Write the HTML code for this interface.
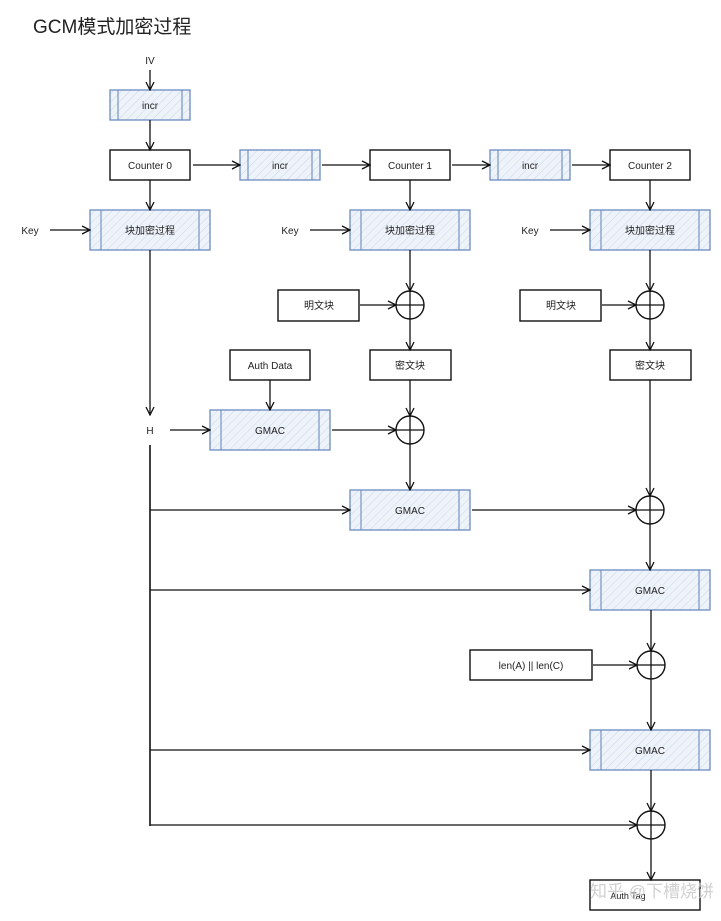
<!DOCTYPE html>
<html><head><meta charset="utf-8"><style>
html,body{margin:0;padding:0;background:#fff;width:721px;height:921px;overflow:hidden}
svg{display:block}
text{font-family:"Liberation Sans","Noto Sans CJK SC",sans-serif;fill:#222}
</style></head><body>
<svg width="721" height="921" viewBox="0 0 721 921" xmlns="http://www.w3.org/2000/svg">
<defs>
<pattern id="h" width="6" height="6" patternUnits="userSpaceOnUse" patternTransform="rotate(45)">
<rect width="6" height="6" fill="#eef3fa"/><line x1="0" y1="0" x2="0" y2="6" stroke="#c9d6ea" stroke-width="1"/>
</pattern>
<marker id="a" markerWidth="10" markerHeight="10" refX="9" refY="5" orient="auto" markerUnits="userSpaceOnUse">
<path d="M1,1 L9,5 L1,9" fill="none" stroke="#111" stroke-width="1.3"/>
</marker>
<g id="x"><circle r="14" fill="none" stroke="#111" stroke-width="1.4"/><line x1="-14" y1="0" x2="14" y2="0" stroke="#111" stroke-width="1.3"/><line x1="0" y1="-14" x2="0" y2="14" stroke="#111" stroke-width="1.3"/></g>
</defs>
<text x="33" y="33" font-size="19">GCM模式加密过程</text>

<g font-size="10" text-anchor="middle">
<text x="150" y="64">IV</text>
<text x="30" y="234">Key</text>
<text x="290" y="234">Key</text>
<text x="530" y="234">Key</text>
<text x="150" y="434">H</text>
</g>

<g stroke="#6b8cc0" stroke-width="1.3" fill="url(#h)">
<rect x="110" y="90" width="80" height="30"/>
<rect x="240" y="150" width="80" height="30"/>
<rect x="490" y="150" width="80" height="30"/>
<rect x="90" y="210" width="120" height="40"/>
<rect x="350" y="210" width="120" height="40"/>
<rect x="590" y="210" width="120" height="40"/>
<rect x="210" y="410" width="120" height="40"/>
<rect x="350" y="490" width="120" height="40"/>
<rect x="590" y="570" width="120" height="40"/>
<rect x="590" y="730" width="120" height="40"/>
</g>
<g stroke="#6b8cc0" stroke-width="1.1">
<line x1="118" y1="90" x2="118" y2="120"/><line x1="182" y1="90" x2="182" y2="120"/>
<line x1="248" y1="150" x2="248" y2="180"/><line x1="312" y1="150" x2="312" y2="180"/>
<line x1="498" y1="150" x2="498" y2="180"/><line x1="562" y1="150" x2="562" y2="180"/>
<line x1="101" y1="210" x2="101" y2="250"/><line x1="199" y1="210" x2="199" y2="250"/>
<line x1="361" y1="210" x2="361" y2="250"/><line x1="459" y1="210" x2="459" y2="250"/>
<line x1="601" y1="210" x2="601" y2="250"/><line x1="699" y1="210" x2="699" y2="250"/>
<line x1="221" y1="410" x2="221" y2="450"/><line x1="319" y1="410" x2="319" y2="450"/>
<line x1="361" y1="490" x2="361" y2="530"/><line x1="459" y1="490" x2="459" y2="530"/>
<line x1="601" y1="570" x2="601" y2="610"/><line x1="699" y1="570" x2="699" y2="610"/>
<line x1="601" y1="730" x2="601" y2="770"/><line x1="699" y1="730" x2="699" y2="770"/>
</g>

<g stroke="#111" stroke-width="1.4" fill="#fff">
<rect x="110" y="150" width="80" height="30"/>
<rect x="370" y="150" width="80" height="30"/>
<rect x="610" y="150" width="80" height="30"/>
<rect x="278" y="290" width="81" height="31"/>
<rect x="520" y="290" width="81" height="31"/>
<rect x="230" y="350" width="80" height="30"/>
<rect x="370" y="350" width="81" height="30"/>
<rect x="610" y="350" width="81" height="30"/>
<rect x="470" y="650" width="122" height="30"/>
<rect x="590" y="880" width="110" height="30"/>
</g>

<g font-size="10" text-anchor="middle">
<text x="150" y="109">incr</text>
<text x="280" y="169">incr</text>
<text x="530" y="169">incr</text>
<text x="150" y="169">Counter 0</text>
<text x="410" y="169">Counter 1</text>
<text x="650" y="169">Counter 2</text>
<text x="150" y="234">块加密过程</text>
<text x="410" y="234">块加密过程</text>
<text x="650" y="234">块加密过程</text>
<text x="319" y="309">明文块</text>
<text x="561" y="309">明文块</text>
<text x="270" y="369">Auth Data</text>
<text x="410" y="369">密文块</text>
<text x="650" y="369">密文块</text>
<text x="270" y="434">GMAC</text>
<text x="410" y="514">GMAC</text>
<text x="650" y="594">GMAC</text>
<text x="531" y="669">len(A) || len(C)</text>
<text x="650" y="754">GMAC</text>
<text x="628" y="899" font-size="9">Auth Tag</text>
</g>

<use href="#x" x="410" y="305"/><use href="#x" x="650" y="305"/>
<use href="#x" x="410" y="430"/><use href="#x" x="650" y="510"/>
<use href="#x" x="651" y="665"/><use href="#x" x="651" y="825"/>

<g stroke="#111" stroke-width="1.3" fill="none" marker-end="url(#a)">
<line x1="150" y1="70" x2="150" y2="90"/>
<line x1="150" y1="120" x2="150" y2="150"/>
<line x1="150" y1="180" x2="150" y2="210"/>
<line x1="193" y1="165" x2="240" y2="165"/>
<line x1="322" y1="165" x2="370" y2="165"/>
<line x1="452" y1="165" x2="490" y2="165"/>
<line x1="572" y1="165" x2="610" y2="165"/>
<line x1="410" y1="180" x2="410" y2="210"/>
<line x1="650" y1="180" x2="650" y2="210"/>
<line x1="50" y1="230" x2="90" y2="230"/>
<line x1="310" y1="230" x2="350" y2="230"/>
<line x1="550" y1="230" x2="590" y2="230"/>
<line x1="150" y1="250" x2="150" y2="415"/>
<line x1="410" y1="250" x2="410" y2="291"/>
<line x1="650" y1="250" x2="650" y2="291"/>
<line x1="360" y1="305" x2="396" y2="305"/>
<line x1="602" y1="305" x2="636" y2="305"/>
<line x1="410" y1="319" x2="410" y2="350"/>
<line x1="650" y1="319" x2="650" y2="350"/>
<line x1="270" y1="380" x2="270" y2="410"/>
<line x1="410" y1="380" x2="410" y2="416"/>
<line x1="170" y1="430" x2="210" y2="430"/>
<line x1="332" y1="430" x2="396" y2="430"/>
<line x1="410" y1="444" x2="410" y2="490"/>
<line x1="650" y1="380" x2="650" y2="496"/>
<line x1="150" y1="510" x2="350" y2="510"/>
<line x1="472" y1="510" x2="636" y2="510"/>
<line x1="650" y1="524" x2="650" y2="570"/>
<line x1="150" y1="590" x2="590" y2="590"/>
<line x1="651" y1="610" x2="651" y2="651"/>
<line x1="593" y1="665" x2="637" y2="665"/>
<line x1="651" y1="679" x2="651" y2="730"/>
<line x1="150" y1="750" x2="590" y2="750"/>
<line x1="651" y1="770" x2="651" y2="811"/>
<line x1="150" y1="825" x2="637" y2="825"/>
<line x1="651" y1="839" x2="651" y2="880"/>
</g>
<line x1="150" y1="445" x2="150" y2="826" stroke="#111" stroke-width="1.6"/>

<text x="590" y="897" font-size="17" style="fill:#c8c8c8" opacity="0.85">知乎 @下槽烧饼</text>
</svg>
</body></html>
